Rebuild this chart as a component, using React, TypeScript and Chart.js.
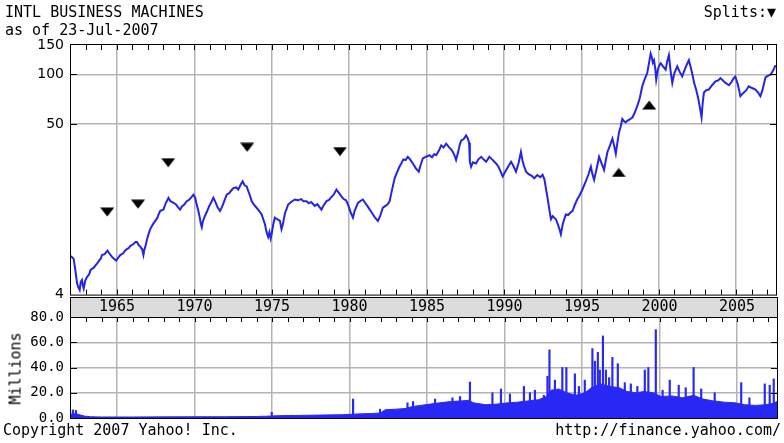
import React, { useEffect, useRef } from "react";
import { Chart, registerables } from "chart.js";

Chart.register(...registerables);

// ---------- data ----------
const X_MIN = 1962.03;
const X_MAX = 2007.58;
const xTickYears = [1965, 1970, 1975, 1980, 1985, 1990, 1995, 2000, 2005];

const PRICE_MIN = 4.6;
const PRICE_MAX = 151;
const priceTickValues = [4.6, 50, 100, 150];
const priceTickLabels = ["4", "50", "100", "150"];

const volumeTickValues = [0, 20, 40, 60, 80];

const priceYears = [
  1962.03, 1962.12, 1962.2, 1962.3, 1962.42, 1962.5, 1962.59, 1962.66, 1962.74, 1962.8, 1962.85, 1962.95,
  1963.07, 1963.2, 1963.3, 1963.39, 1963.5, 1963.6, 1963.71, 1963.85, 1963.95, 1964.03, 1964.2, 1964.39,
  1964.5, 1964.68, 1964.8, 1964.95, 1965.08, 1965.21, 1965.4, 1965.52, 1965.64, 1965.75, 1965.86, 1966.05,
  1966.2, 1966.29, 1966.4, 1966.5, 1966.62, 1966.71, 1966.76, 1966.82, 1966.95, 1967.05, 1967.15, 1967.3,
  1967.47, 1967.6, 1967.7, 1967.79, 1967.9, 1968.0, 1968.15, 1968.25, 1968.33, 1968.45, 1968.55, 1968.65,
  1968.8, 1968.95, 1969.08, 1969.2, 1969.35, 1969.51, 1969.65, 1969.8, 1969.94, 1970.05, 1970.15, 1970.26,
  1970.35, 1970.42, 1970.48, 1970.55, 1970.65, 1970.8, 1970.95, 1971.1, 1971.23, 1971.35, 1971.5, 1971.66,
  1971.8, 1971.95, 1972.09, 1972.25, 1972.4, 1972.52, 1972.7, 1972.84, 1972.98, 1973.12, 1973.25, 1973.38,
  1973.5, 1973.6, 1973.7, 1973.85, 1974.02, 1974.15, 1974.35, 1974.45, 1974.56, 1974.66, 1974.77, 1974.85,
  1974.93, 1974.99, 1975.1, 1975.2, 1975.35, 1975.53, 1975.63, 1975.72, 1975.85, 1976.06, 1976.25, 1976.49,
  1976.7, 1976.9, 1977.05, 1977.25, 1977.4, 1977.55, 1977.78, 1977.95, 1978.1, 1978.21, 1978.35, 1978.54,
  1978.7, 1978.85, 1979.0, 1979.18, 1979.3, 1979.5, 1979.65, 1979.8, 1979.93, 1980.1, 1980.25, 1980.35,
  1980.45, 1980.57, 1980.75, 1980.89, 1981.05, 1981.2, 1981.33, 1981.5, 1981.65, 1981.86, 1982.0, 1982.18,
  1982.35, 1982.5, 1982.62, 1982.75, 1982.94, 1983.1, 1983.25, 1983.37, 1983.5, 1983.65, 1983.79, 1983.95,
  1984.12, 1984.3, 1984.5, 1984.6, 1984.76, 1984.95, 1985.19, 1985.35, 1985.5, 1985.63, 1985.8, 1985.95,
  1986.1, 1986.27, 1986.45, 1986.6, 1986.7, 1986.8, 1986.91, 1987.05, 1987.15, 1987.24, 1987.4, 1987.56,
  1987.66, 1987.75, 1987.8, 1987.88, 1988.0, 1988.2, 1988.35, 1988.53, 1988.7, 1988.85, 1989.06, 1989.25,
  1989.49, 1989.65, 1989.8, 1989.92, 1990.1, 1990.3, 1990.46, 1990.6, 1990.78, 1990.95, 1991.1, 1991.2,
  1991.3, 1991.43, 1991.6, 1991.8, 1991.96, 1992.15, 1992.35, 1992.5, 1992.62, 1992.72, 1992.82, 1992.95,
  1993.04, 1993.15, 1993.36, 1993.5, 1993.6, 1993.68, 1993.8, 1994.0, 1994.15, 1994.3, 1994.43, 1994.6,
  1994.75, 1994.86, 1995.05, 1995.29, 1995.45, 1995.62, 1995.72, 1995.83, 1996.0, 1996.15, 1996.3, 1996.47,
  1996.58, 1996.69, 1996.85, 1997.01, 1997.12, 1997.23, 1997.35, 1997.44, 1997.55, 1997.65, 1997.78, 1997.87,
  1997.97, 1998.15, 1998.3, 1998.45, 1998.62, 1998.78, 1998.94, 1999.05, 1999.15, 1999.26, 1999.38, 1999.48,
  1999.55, 1999.62, 1999.7, 1999.78, 1999.84, 1999.95, 2000.05, 2000.13, 2000.28, 2000.45, 2000.55, 2000.66,
  2000.78, 2000.88, 2001.0, 2001.2, 2001.35, 2001.52, 2001.7, 2001.82, 2001.95, 2002.05, 2002.16, 2002.3,
  2002.42, 2002.55, 2002.65, 2002.77, 2002.85, 2002.92, 2003.05, 2003.24, 2003.45, 2003.67, 2003.85, 2003.99,
  2004.15, 2004.32, 2004.55, 2004.7, 2004.85, 2004.95, 2005.1, 2005.28, 2005.45, 2005.65, 2005.82, 2006.0,
  2006.25, 2006.45, 2006.57, 2006.7, 2006.9, 2007.05, 2007.24, 2007.4, 2007.56,
];
const priceValues = [
  7.9, 7.7, 7.6, 6.6, 5.4, 5.1, 4.9, 5.5, 5.65, 5.2, 5.0, 5.6,
  5.9, 6.1, 6.5, 6.6, 6.7, 6.9, 7.1, 7.4, 7.6, 8.0, 8.1, 8.5,
  8.2, 7.8, 7.6, 7.4, 7.7, 8.0, 8.2, 8.5, 8.7, 8.8, 9.1, 9.3,
  9.6, 9.6, 9.2, 9.0, 8.7, 8.0, 8.6, 8.9, 10.0, 10.8, 11.5, 12.2,
  12.9, 13.4, 14.2, 14.8, 15.0, 15.1, 16.5, 17.2, 17.8, 17.0, 16.8, 16.6,
  16.3, 15.6, 15.1, 15.8, 16.2, 17.0, 17.3, 17.9, 18.6, 17.9, 16.2, 14.8,
  13.5, 12.4, 11.8, 12.8, 13.6, 14.6, 15.8, 16.8, 17.8, 16.9, 15.6, 14.8,
  15.8, 17.2, 18.6, 19.0, 19.8, 20.4, 20.6, 20.0, 21.3, 22.4, 21.2, 20.9,
  19.4, 18.3, 17.0, 16.2, 15.5, 15.0, 14.1, 13.2, 12.3, 11.1, 10.3, 11.0,
  10.1, 10.7, 12.3, 13.5, 13.2, 12.9, 11.5, 12.3, 14.3, 16.2, 16.8, 17.4,
  17.2, 17.5, 17.0, 17.0, 16.5, 16.8, 15.9, 16.3, 15.6, 15.1, 16.0, 17.0,
  17.3, 18.0, 18.6, 20.0, 19.3, 18.2, 17.5, 17.2, 16.2, 14.5, 13.5, 14.8,
  15.6, 16.6, 17.1, 17.4, 16.5, 15.8, 15.1, 14.3, 13.6, 12.9, 13.8, 15.5,
  15.9, 16.3, 17.0, 19.5, 23.4, 25.5, 27.5, 28.8, 30.5, 30.2, 31.6, 30.4,
  28.8, 27.0, 25.7, 27.8, 30.9, 31.6, 32.3, 31.4, 32.8, 32.3, 34.5, 37.1,
  36.0, 38.0, 36.2, 35.0, 33.8, 32.4, 30.2, 34.0, 37.5, 39.7, 40.5, 42.6,
  41.0, 38.5, 29.5, 27.5, 29.3, 28.8, 30.5, 31.6, 30.4, 29.5, 31.6, 30.4,
  28.8, 27.5, 25.5, 24.0, 25.8, 27.8, 29.5, 28.0, 25.7, 29.0, 33.8, 30.0,
  27.8, 25.7, 24.8, 24.2, 23.4, 24.5, 23.8, 24.6, 23.0, 20.2, 17.8, 14.8,
  13.2, 13.8, 13.2, 12.2, 11.4, 10.7, 12.3, 14.1, 14.0, 14.5, 14.8, 16.3,
  17.5, 18.2, 19.8, 22.4, 24.5, 27.5, 24.8, 22.9, 27.0, 31.6, 29.0, 26.3,
  30.0, 33.8, 37.0, 40.7, 37.0, 33.0, 39.5, 44.6, 48.5, 53.6, 51.8, 51.2,
  52.3, 53.5, 54.8, 58.5, 64.4, 72.0, 84.8, 91.0, 96.5, 102, 118, 134,
  128, 118, 122, 108, 93, 108, 114, 117, 112, 107, 120, 131,
  103, 88.8, 101, 112, 104, 97.3, 108, 115, 122, 112, 102, 88,
  81, 72, 64, 54.8, 68, 77.4, 80, 81, 86, 90.8, 92, 95,
  92, 88.8, 86, 90, 95, 97, 88, 73.8, 77, 80, 84.8, 83,
  81, 77, 73.8, 80, 96, 98, 100, 106, 114,
];

const splitDownYears = [1964.37, 1966.36, 1968.31, 1973.41, 1979.41];
const splitDownValues = [14.6, 16.3, 29.1, 36.1, 34.0];
const splitUpYears = [1997.42, 1999.39];
const splitUpValues = [25.4, 65.2];

const volumeBaseYears = [
  1962.03, 1962.3, 1962.6, 1962.9, 1963.3, 1964.0, 1966.0, 1968.0, 1970.0, 1972.0, 1974.0, 1974.9,
  1975.3, 1976.5, 1978.0, 1979.5, 1980.5, 1981.5, 1982.0, 1982.3, 1983.0, 1983.6, 1984.0, 1984.6,
  1985.2, 1985.8, 1986.5, 1987.2, 1987.7, 1988.0, 1988.8, 1989.5, 1990.2, 1990.8, 1991.5, 1992.2,
  1992.7, 1993.0, 1993.5, 1994.0, 1994.6, 1995.2, 1995.6, 1996.2, 1996.8, 1997.4, 1997.9, 1998.5,
  1999.0, 1999.6, 2000.1, 2000.8, 2001.5, 2002.2, 2002.8, 2003.5, 2004.2, 2004.9, 2005.5, 2006.2,
  2006.8, 2007.3, 2007.58,
];
const volumeBaseValues = [
  3.0, 3.5, 2.5, 1.5, 1.0, 0.8, 0.8, 0.9, 1.0, 1.0, 1.2, 1.5,
  1.8, 2.0, 2.3, 2.6, 3.2, 3.6, 4.0, 6.5, 7.0, 7.5, 9.0, 10.0,
  11.0, 12.0, 13.0, 13.5, 14.0, 12.0, 10.5, 11.0, 12.0, 12.5, 13.5, 14.5,
  17.0, 22.0, 23.0, 20.0, 18.0, 20.0, 24.0, 27.0, 25.0, 24.0, 21.0, 20.0,
  21.0, 20.0, 17.0, 17.5, 16.0, 18.0, 15.0, 13.5, 12.5, 12.0, 10.5, 10.0,
  10.5, 11.5, 13.0,
];

const volumeSpikeYears = [
  1962.15, 1962.35, 1974.98, 1980.23, 1981.97, 1983.74, 1984.1, 1985.52, 1986.64, 1987.13, 1987.77,
  1989.22, 1989.77, 1990.35, 1991.25, 1991.64, 1991.96, 1992.54, 1992.77, 1992.9, 1993.25, 1993.73,
  1993.99, 1994.54, 1994.8, 1995.18, 1995.67, 1995.83, 1996.02, 1996.15, 1996.35, 1996.54, 1996.75,
  1996.96, 1997.31, 1997.76, 1998.15, 1998.57, 1999.05, 1999.28, 1999.76, 2000.2, 2000.66, 2001.24,
  2001.69, 2002.2, 2002.69, 2003.56, 2005.27, 2005.8, 2006.79, 2007.11, 2007.37,
];
const volumeSpikeValues = [
  6.4, 6.0, 4.5, 15, 7, 12, 13, 15, 16, 17, 28.5,
  20, 23, 19, 25, 20, 22, 18, 33, 54, 30, 40,
  40, 35, 25, 30, 55, 45, 52, 38, 65, 38, 32,
  48, 43, 28, 27, 25, 38, 40, 70, 22, 30, 26,
  24, 40, 23, 20, 28, 16, 27, 26, 31,
];

// ---------- styling ----------
const BLUE = "rgb(36,36,232)";
const VOL_BLUE = "rgb(40,40,245)";
const GRID = "#b4b4b4";
const MONO = "'DejaVu Sans Mono', monospace";

function makeTriangle(down: boolean): HTMLCanvasElement {
  const c = document.createElement("canvas");
  c.width = 14;
  c.height = 10;
  const g = c.getContext("2d")!;
  g.fillStyle = "#000";
  g.beginPath();
  if (down) {
    g.moveTo(0, 0.5);
    g.lineTo(14, 0.5);
    g.lineTo(7, 9.5);
  } else {
    g.moveTo(0, 9.5);
    g.lineTo(14, 9.5);
    g.lineTo(7, 0.5);
  }
  g.closePath();
  g.fill();
  return c;
}

const framePricePlugin = {
  id: "framePrice",
  afterDraw(chart: any) {
    const { ctx, chartArea: a, scales } = chart;
    const xs = scales.x;
    const ys = scales.y;
    ctx.save();
    ctx.strokeStyle = "#000";
    ctx.lineWidth = 1;
    ctx.strokeRect(a.left - 0.5, a.top - 0.5, a.right - a.left + 1, a.bottom - a.top + 1);
    ctx.beginPath();
    for (let yr = Math.ceil(X_MIN); yr <= Math.floor(X_MAX); yr++) {
      const px = Math.round(xs.getPixelForValue(yr)) + 0.5;
      ctx.moveTo(px, a.top);
      ctx.lineTo(px, a.top + 5);
      ctx.moveTo(px, a.bottom);
      ctx.lineTo(px, a.bottom - 5);
    }
    [50, 100].forEach((v) => {
      const py = Math.round(ys.getPixelForValue(v)) + 0.5;
      ctx.moveTo(a.left, py);
      ctx.lineTo(a.left + 6, py);
      ctx.moveTo(a.right, py);
      ctx.lineTo(a.right - 6, py);
    });
    ctx.stroke();
    ctx.restore();
  },
};

const frameVolumePlugin = {
  id: "frameVolume",
  beforeDraw(chart: any) {
    const { ctx, chartArea: a, scales } = chart;
    const xs = scales.x;
    ctx.save();
    ctx.fillStyle = "#dcdcdc";
    ctx.fillRect(a.left, xs.top, a.right - a.left, xs.bottom - xs.top);
    ctx.restore();
  },
  afterDraw(chart: any) {
    const { ctx, chartArea: a, scales } = chart;
    const xs = scales.x;
    const ys = scales.y;
    ctx.save();
    ctx.strokeStyle = "#000";
    ctx.lineWidth = 1;
    ctx.strokeRect(a.left - 0.5, xs.top + 0.5, a.right - a.left + 1, a.bottom - xs.top);
    ctx.beginPath();
    ctx.moveTo(a.left, a.top + 0.5);
    ctx.lineTo(a.right, a.top + 0.5);
    for (let yr = Math.ceil(X_MIN); yr <= Math.floor(X_MAX); yr++) {
      const px = Math.round(xs.getPixelForValue(yr)) + 0.5;
      ctx.moveTo(px, a.top);
      ctx.lineTo(px, a.top + 5);
    }
    [20, 40, 60].forEach((v) => {
      const py = Math.round(ys.getPixelForValue(v)) + 0.5;
      ctx.moveTo(a.left, py);
      ctx.lineTo(a.left + 6, py);
      ctx.moveTo(a.right, py);
      ctx.lineTo(a.right - 6, py);
    });
    ctx.stroke();
    ctx.restore();
  },
};

export default function App() {
  const priceRef = useRef<HTMLCanvasElement | null>(null);
  const volRef = useRef<HTMLCanvasElement | null>(null);

  useEffect(() => {
    const downTri = makeTriangle(true);
    const upTri = makeTriangle(false);

    const priceChart = new Chart(priceRef.current!, {
      type: "line",
      data: {
        datasets: [
          {
            data: priceYears.map((x, i) => ({ x, y: priceValues[i] })),
            borderColor: BLUE,
            borderWidth: 2,
            pointRadius: 0,
            tension: 0,
            fill: false,
          },
          {
            data: splitDownYears.map((x, i) => ({ x, y: splitDownValues[i] })),
            showLine: false,
            pointStyle: downTri as any,
            pointRadius: 7,
            clip: false as any,
          },
          {
            data: splitUpYears.map((x, i) => ({ x, y: splitUpValues[i] })),
            showLine: false,
            pointStyle: upTri as any,
            pointRadius: 7,
            clip: false as any,
          },
        ],
      },
      options: {
        responsive: false,
        animation: false,
        devicePixelRatio: 1,
        layout: { padding: { top: 45, right: 7, bottom: 12, left: 0 } },
        plugins: { legend: { display: false }, tooltip: { enabled: false } },
        events: [],
        scales: {
          x: {
            type: "linear",
            min: X_MIN,
            max: X_MAX,
            offset: false,
            afterBuildTicks: (scale: any) => {
              scale.ticks = xTickYears.map((v) => ({ value: v }));
            },
            afterFit: (scale: any) => {
              scale.height = 0;
            },
            ticks: { display: false },
            grid: { color: GRID, lineWidth: 1.5, drawTicks: false },
            border: { display: false },
          },
          y: {
            type: "logarithmic",
            min: PRICE_MIN,
            max: PRICE_MAX,
            afterBuildTicks: (scale: any) => {
              scale.ticks = priceTickValues.map((v) => ({ value: v }));
            },
            afterFit: (scale: any) => {
              scale.width = 71;
            },
            ticks: {
              callback: (_v: any, i: number) => priceTickLabels[i],
              color: "#000",
              font: { family: "'DejaVu Sans', sans-serif", size: 14 },
              padding: 7,
              autoSkip: false,
            },
            grid: {
              color: (c: any) =>
                c.tick && (c.tick.value === 50 || c.tick.value === 100) ? GRID : "rgba(0,0,0,0)",
              lineWidth: 1.5,
              drawTicks: false,
            },
            border: { display: false },
          },
        },
      } as any,
      plugins: [framePricePlugin],
    });

    const volChart = new Chart(volRef.current!, {
      type: "line",
      data: {
        datasets: [
          {
            data: volumeBaseYears.map((x, i) => ({ x, y: volumeBaseValues[i] })),
            borderColor: VOL_BLUE,
            backgroundColor: VOL_BLUE,
            borderWidth: 1,
            pointRadius: 0,
            tension: 0,
            fill: "origin",
          },
          {
            type: "bar",
            data: volumeSpikeYears.map((x, i) => ({ x, y: volumeSpikeValues[i] })),
            backgroundColor: VOL_BLUE,
            borderWidth: 0,
            barThickness: 1.5,
          } as any,
        ],
      },
      options: {
        responsive: false,
        animation: false,
        devicePixelRatio: 1,
        layout: { padding: { top: 7, right: 7, bottom: 25, left: 0 } },
        plugins: { legend: { display: false }, tooltip: { enabled: false } },
        events: [],
        scales: {
          x: {
            type: "linear",
            position: "top",
            min: X_MIN,
            max: X_MAX,
            offset: false,
            afterBuildTicks: (scale: any) => {
              scale.ticks = xTickYears.map((v) => ({ value: v }));
            },
            afterFit: (scale: any) => {
              scale.height = 20;
            },
            ticks: {
              callback: (v: any) => String(v),
              color: "#000",
              font: { family: MONO, size: 15 },
              padding: 1,
              maxRotation: 0,
              autoSkip: false,
            },
            grid: { color: GRID, lineWidth: 1.5, drawTicks: false, offset: false },
            border: { display: false },
          },
          y: {
            type: "linear",
            min: 0,
            max: 80,
            afterBuildTicks: (scale: any) => {
              scale.ticks = volumeTickValues.map((v) => ({ value: v }));
            },
            afterFit: (scale: any) => {
              scale.width = 71;
            },
            ticks: {
              callback: (v: any) => Number(v).toFixed(1),
              color: "#000",
              font: { family: MONO, size: 14 },
              padding: 7,
              autoSkip: false,
            },
            grid: {
              color: (c: any) =>
                c.tick && c.tick.value > 0 && c.tick.value < 80 ? GRID : "rgba(0,0,0,0)",
              lineWidth: 1.5,
              drawTicks: false,
            },
            border: { display: false },
          },
        },
      } as any,
      plugins: [frameVolumePlugin],
    });

    return () => {
      priceChart.destroy();
      volChart.destroy();
    };
  }, []);

  const textBase: React.CSSProperties = {
    position: "absolute",
    fontFamily: MONO,
    fontSize: 15,
    lineHeight: "17px",
    color: "#000",
    whiteSpace: "pre",
  };

  return (
    <div
      style={{
        position: "absolute",
        left: 0,
        top: 0,
        width: 784,
        height: 443,
        background: "#fff",
        overflow: "hidden",
      }}
    >
      <canvas
        ref={priceRef}
        width={784}
        height={310}
        style={{ position: "absolute", left: 0, top: 0, width: 784, height: 310 }}
      />
      <canvas
        ref={volRef}
        width={784}
        height={153}
        style={{ position: "absolute", left: 0, top: 290, width: 784, height: 153 }}
      />
      <div style={{ ...textBase, left: 5, top: 4 }}>INTL BUSINESS MACHINES</div>
      <div style={{ ...textBase, left: 5, top: 22 }}>as of 23-Jul-2007</div>
      <div style={{ ...textBase, right: 8, top: 4, textAlign: "right" }}>Splits:▼</div>
      <div style={{ ...textBase, left: 3, top: 422 }}>Copyright 2007 Yahoo! Inc.</div>
      <div style={{ ...textBase, right: 3, top: 422, textAlign: "right" }}>http://finance.yahoo.com/</div>
      <div
        style={{
          ...textBase,
          left: -24,
          top: 360,
          width: 80,
          height: 17,
          textAlign: "center",
          transform: "rotate(-90deg)",
        }}
      >
        Millions
      </div>
    </div>
  );
}
